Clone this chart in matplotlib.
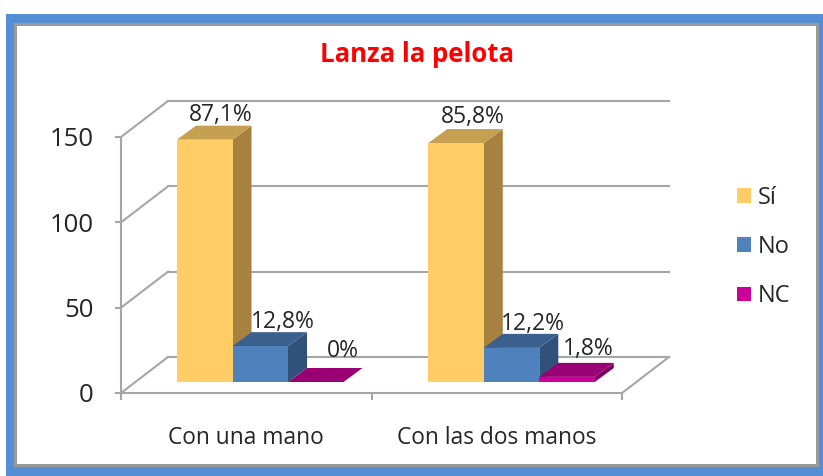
import matplotlib
matplotlib.use("Agg")
import matplotlib.pyplot as plt
from matplotlib.patches import Polygon, Rectangle, Patch

categories = ["Con una mano", "Con las dos manos"]
series_names = ["Sí", "No", "NC"]
si_values = [142, 140]
no_values = [21, 20]
nc_values = [0, 3]
si_labels = ["87,1%", "85,8%"]
no_labels = ["12,8%", "12,2%"]
nc_labels = ["0%", "1,8%"]
y_ticks = [0, 50, 100, 150]

W, H = 823, 476
plt.rcParams["font.family"] = ["Open Sans", "DejaVu Sans"]

# face, top, side
COLORS = [
    ("#FFCC66", "#C4A050", "#A6813F"),
    ("#4F81BD", "#3B608E", "#30527A"),
    ("#CC0099", "#990073", "#80005F"),
]
GRID = "#A6A6A6"
TEXT = "#262626"

# pixel offsets of the data labels from the front centre of each bar top
LABEL_OFFSETS = [
    [(16, 25), (23, 24), (27, 31)],
    [(17, 26), (21, 24), (21, 28)],
]

fig = plt.figure(figsize=(W / 100, H / 100), dpi=100, facecolor="white")


def frame_rect(x0, y0, x1, y1, color):
    fig.add_artist(Rectangle((x0 / W, 1 - y1 / H), (x1 - x0) / W, (y1 - y0) / H,
                             transform=fig.transFigure, facecolor=color, edgecolor="none"))


frame_rect(6, 14, 823, 476, "#558ED5")
frame_rect(14, 23, 819, 467, "#9A9A9A")
frame_rect(17, 26, 816, 464, "white")

ax = fig.add_axes([121 / W, 1 - 393 / H, 501 / W, 256 / H])
ax.set_zorder(5)
ax.patch.set_alpha(0)
ax.set_xlim(0, 2)
ax.set_ylim(0, 150)

px_x = 2 / 501
px_y = 150 / 256
wall_dx, wall_dy = 47 * px_x, 36 * px_y

for s in ["top", "right"]:
    ax.spines[s].set_visible(False)
for s in ["left", "bottom"]:
    ax.spines[s].set_color(GRID)
    ax.spines[s].set_linewidth(1.5)

ax.set_yticks(y_ticks)
ax.set_xticks([0, 1, 2])
ax.set_xticklabels([])
ax.set_xticks([0.5, 1.5], minor=True)
ax.set_xticklabels(categories, minor=True, fontsize=16.4, color=TEXT)
ax.tick_params(axis="x", which="minor", length=0, pad=23.5)
ax.tick_params(axis="x", which="major", length=5, width=1.5, color=GRID)
ax.tick_params(axis="y", length=4, width=1.5, color=GRID, labelsize=18.5, labelcolor=TEXT, pad=15.5)

# back wall and floor
for t in y_ticks:
    ax.plot([0, wall_dx], [t, t + wall_dy], color=GRID, lw=1.5, clip_on=False, zorder=1)
    ax.plot([wall_dx, 2 + wall_dx], [t + wall_dy, t + wall_dy], color=GRID, lw=1.5, clip_on=False, zorder=1)
ax.plot([2, 2 + wall_dx], [0, wall_dy], color=GRID, lw=1.5, clip_on=False, zorder=1)

bar_w = 55.5 * px_x
group_start = [0.2236, 1.2267]
base = 11 * px_y
depth_x, depth_y = 19 * px_x, 14 * px_y

series = [si_values, no_values, nc_values]
labels = [si_labels, no_labels, nc_labels]

for g in range(len(categories)):
    for k, vals in enumerate(series):
        x0 = group_start[g] + k * bar_w
        x1 = x0 + bar_w
        y0 = base
        y1 = base + vals[g]
        face, top, side = COLORS[k]
        z = 3 + g + k * 0.1
        ax.add_patch(Polygon([(x1, y0), (x1 + depth_x, y0 + depth_y), (x1 + depth_x, y1 + depth_y), (x1, y1)],
                             facecolor=side, edgecolor="none", clip_on=False, zorder=z))
        ax.add_patch(Polygon([(x0, y1), (x1, y1), (x1 + depth_x, y1 + depth_y), (x0 + depth_x, y1 + depth_y)],
                             facecolor=top, edgecolor="none", clip_on=False, zorder=z))
        if vals[g] > 0:
            ax.add_patch(Rectangle((x0, y0), bar_w, vals[g], facecolor=face, edgecolor="none",
                                   clip_on=False, zorder=z))
        off = LABEL_OFFSETS[g][k]
        ax.annotate(labels[k][g], xy=((x0 + x1) / 2, y1), xytext=(off[0] * 0.72, off[1] * 0.72),
                    textcoords="offset points", ha="center", va="center",
                    fontsize=16.5, color=TEXT, annotation_clip=False, zorder=10)

fig.text(417 / W, 1 - 55 / H, "Lanza la pelota", color="#FF0000", fontsize=18.5,
         fontweight="bold", ha="center", va="center")

handles = [Patch(facecolor=c[0], edgecolor="none", label=n) for c, n in zip(COLORS, series_names)]
fig.legend(handles=handles, loc="center left", bbox_to_anchor=(737 / W, 1 - 247 / H),
           frameon=False, fontsize=17, labelcolor=TEXT, handlelength=0.59, handleheight=0.59,
           handletextpad=0.3, labelspacing=1.075, borderpad=0, borderaxespad=0)

fig.savefig("out.png", dpi=100)
plt.close(fig)
